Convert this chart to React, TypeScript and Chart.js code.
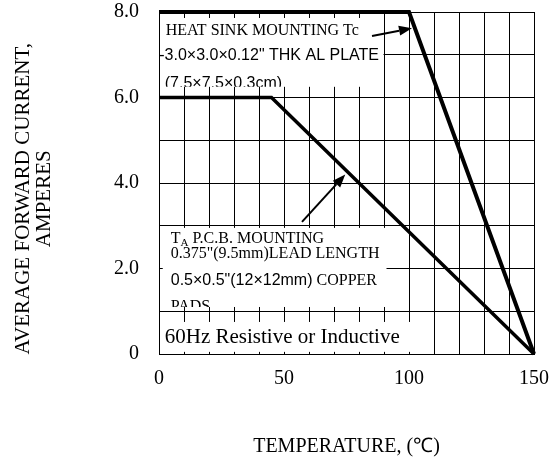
import { useEffect, useRef } from 'react';
import { Chart, registerables } from 'chart.js';

Chart.register(...registerables);

// ---- data ----
const temperatureHeatSink = [0, 100, 150];
const currentHeatSink = [8.0, 8.0, 0];
const temperaturePcb = [0, 45, 150];
const currentPcb = [6.0, 6.0, 0];
const xLabelValues = [0, 50, 100, 150];
const yLabelValues = [0, 2, 4, 6, 8];

const SERIF = '"Liberation Serif", "Times New Roman", serif';
const SANS = '"Liberation Sans", Arial, sans-serif';

type Seg = { text: string; font: string; sub?: boolean };
type Line = { x: number; y: number; segs: Seg[] };
type Box = { x0: number; x1: number; y0: number; y1: number; lines: Line[] };

const boxes: Box[] = [
  {
    x0: 0.4, x1: 89.8, y0: 7.86, y1: 6.25,
    lines: [
      { x: 2.7, y: 7.46, segs: [{ text: 'HEAT SINK MOUNTING Tc', font: `16px ${SERIF}` }] },
      { x: 0.1, y: 6.88, segs: [{ text: '-3.0×3.0×0.12" THK AL PLATE', font: `16px ${SANS}` }] },
      { x: 2.3, y: 6.22, segs: [{ text: '(7.5×7.5×0.3cm)', font: `16px ${SANS}` }] },
    ],
  },
  {
    x0: 1.5, x1: 91, y0: 2.95, y1: 1.1,
    lines: [
      {
        x: 4.7, y: 2.6, segs: [
          { text: 'T', font: `16px ${SERIF}` },
          { text: 'A', font: `11px ${SERIF}`, sub: true },
          { text: ' P.C.B. MOUNTING', font: `16px ${SERIF}` },
        ],
      },
      { x: 4.7, y: 2.25, segs: [{ text: '0.375"(9.5mm)LEAD LENGTH', font: `16px ${SERIF}` }] },
      {
        x: 4.7, y: 1.61, segs: [
          { text: '0.5×0.5"(12×12mm)', font: `16px ${SANS}` },
          { text: ' COPPER', font: `16px ${SERIF}` },
        ],
      },
      { x: 4.7, y: 1.0, segs: [{ text: 'PADS', font: `16px ${SERIF}` }] },
    ],
  },
  {
    x0: 0.4, x1: 100.6, y0: 0.75, y1: 0.05,
    lines: [{ x: 2.3, y: 0.26, segs: [{ text: '60Hz Resistive or Inductive', font: `21px ${SERIF}` }] }],
  },
];

const arrows = [
  { from: [85.2, 7.44], to: [101.2, 7.62] },
  { from: [57.2, 3.09], to: [74.5, 4.2] },
];

const annotationPlugin = {
  id: 'annotations',
  beforeDatasetsDraw(chart: any) {
    const { ctx, scales } = chart;
    const x = scales.x;
    const y = scales.y;
    ctx.save();
    for (const b of boxes) {
      const left = x.getPixelForValue(b.x0);
      const right = x.getPixelForValue(b.x1);
      const top = y.getPixelForValue(b.y0);
      const bottom = y.getPixelForValue(b.y1);
      ctx.fillStyle = '#fff';
      ctx.fillRect(left, top, right - left, bottom - top);
      ctx.save();
      ctx.beginPath();
      ctx.rect(left, top, right - left, bottom - top);
      ctx.clip();
      ctx.fillStyle = '#000';
      ctx.textBaseline = 'alphabetic';
      ctx.textAlign = 'left';
      for (const line of b.lines) {
        let px = x.getPixelForValue(line.x);
        const py = y.getPixelForValue(line.y);
        for (const s of line.segs) {
          ctx.font = s.font;
          ctx.fillText(s.text, px, py + (s.sub ? 3 : 0));
          px += ctx.measureText(s.text).width;
        }
      }
      ctx.restore();
    }
    ctx.restore();
  },
  afterDatasetsDraw(chart: any) {
    const { ctx, scales } = chart;
    const x = scales.x;
    const y = scales.y;
    ctx.save();
    ctx.strokeStyle = '#000';
    ctx.fillStyle = '#000';
    ctx.lineWidth = 2;
    for (const a of arrows) {
      const x1 = x.getPixelForValue(a.from[0]);
      const y1 = y.getPixelForValue(a.from[1]);
      const x2 = x.getPixelForValue(a.to[0]);
      const y2 = y.getPixelForValue(a.to[1]);
      const ang = Math.atan2(y2 - y1, x2 - x1);
      const headLen = 13;
      const headHalf = 5;
      const bx = x2 - headLen * Math.cos(ang);
      const by = y2 - headLen * Math.sin(ang);
      ctx.beginPath();
      ctx.moveTo(x1, y1);
      ctx.lineTo(bx, by);
      ctx.stroke();
      ctx.beginPath();
      ctx.moveTo(x2, y2);
      ctx.lineTo(bx + headHalf * Math.sin(ang), by - headHalf * Math.cos(ang));
      ctx.lineTo(bx - headHalf * Math.sin(ang), by + headHalf * Math.cos(ang));
      ctx.closePath();
      ctx.fill();
    }
    ctx.restore();
  },
};

// trailing spaces shift the rotated, centred axis title down along the axis
const Y_TITLE_PAD = '      ';

export default function App() {
  const ref = useRef<HTMLCanvasElement | null>(null);
  useEffect(() => {
    if (!ref.current) return;
    const tickFont = { family: SERIF, size: 20 };
    const chart = new Chart(ref.current, {
      type: 'line',
      data: {
        datasets: [
          {
            label: 'Heat sink mounting',
            data: temperatureHeatSink.map((t, i) => ({ x: t, y: currentHeatSink[i] })),
            borderColor: '#000',
            borderWidth: 4,
            pointRadius: 0,
            tension: 0,
            clip: false as any,
          },
          {
            label: 'P.C.B. mounting',
            data: temperaturePcb.map((t, i) => ({ x: t, y: currentPcb[i] })),
            borderColor: '#000',
            borderWidth: 3.5,
            pointRadius: 0,
            tension: 0,
            clip: false as any,
          },
        ],
      },
      options: {
        animation: false,
        responsive: false,
        layout: { padding: { top: 12, right: 17, left: 0, bottom: 0 } },
        plugins: { legend: { display: false }, tooltip: { enabled: false } },
        scales: {
          x: {
            type: 'linear',
            min: 0,
            max: 150,
            ticks: {
              stepSize: 10,
              autoSkip: false,
              maxRotation: 0,
              padding: 13,
              color: '#000',
              font: tickFont,
              callback: (v: any) => (xLabelValues.includes(Number(v)) ? String(v) : ''),
            },
            grid: { color: '#000', lineWidth: 1, drawTicks: false },
            border: { color: '#000', width: 1 },
            title: {
              display: true,
              text: 'TEMPERATURE, (℃)',
              color: '#000',
              font: { family: SERIF, size: 20 },
              padding: { top: 0, bottom: 3 },
            },
            afterFit: (s: any) => {
              s.height = 108;
              s.paddingLeft = 0;
              s.paddingRight = 0;
            },
          },
          y: {
            type: 'linear',
            min: 0,
            max: 8,
            ticks: {
              stepSize: 1,
              autoSkip: false,
              padding: 20,
              color: '#000',
              font: tickFont,
              callback: (v: any) => {
                const n = Number(v);
                if (!yLabelValues.includes(n)) return '';
                return n === 0 ? '0' : n.toFixed(1);
              },
            },
            grid: { color: '#000', lineWidth: 1, drawTicks: false },
            border: { color: '#000', width: 1 },
            title: {
              display: true,
              text: ['AVERAGE FORWARD CURRENT,' + Y_TITLE_PAD, 'AMPERES' + Y_TITLE_PAD],
              color: '#000',
              font: { family: SERIF, size: 21, lineHeight: 1.0 },
              padding: { top: 13, bottom: 0 },
            },
            afterFit: (s: any) => {
              s.width = 159;
              s.paddingTop = 0;
              s.paddingBottom = 0;
            },
          },
        },
      } as any,
      plugins: [annotationPlugin],
    });
    return () => chart.destroy();
  }, []);
  return (
    <div style={{ position: 'fixed', left: 0, top: 0, width: 551, height: 462, background: '#fff' }}>
      <canvas ref={ref} width={551} height={462} style={{ width: 551, height: 462, display: 'block' }} />
    </div>
  );
}
